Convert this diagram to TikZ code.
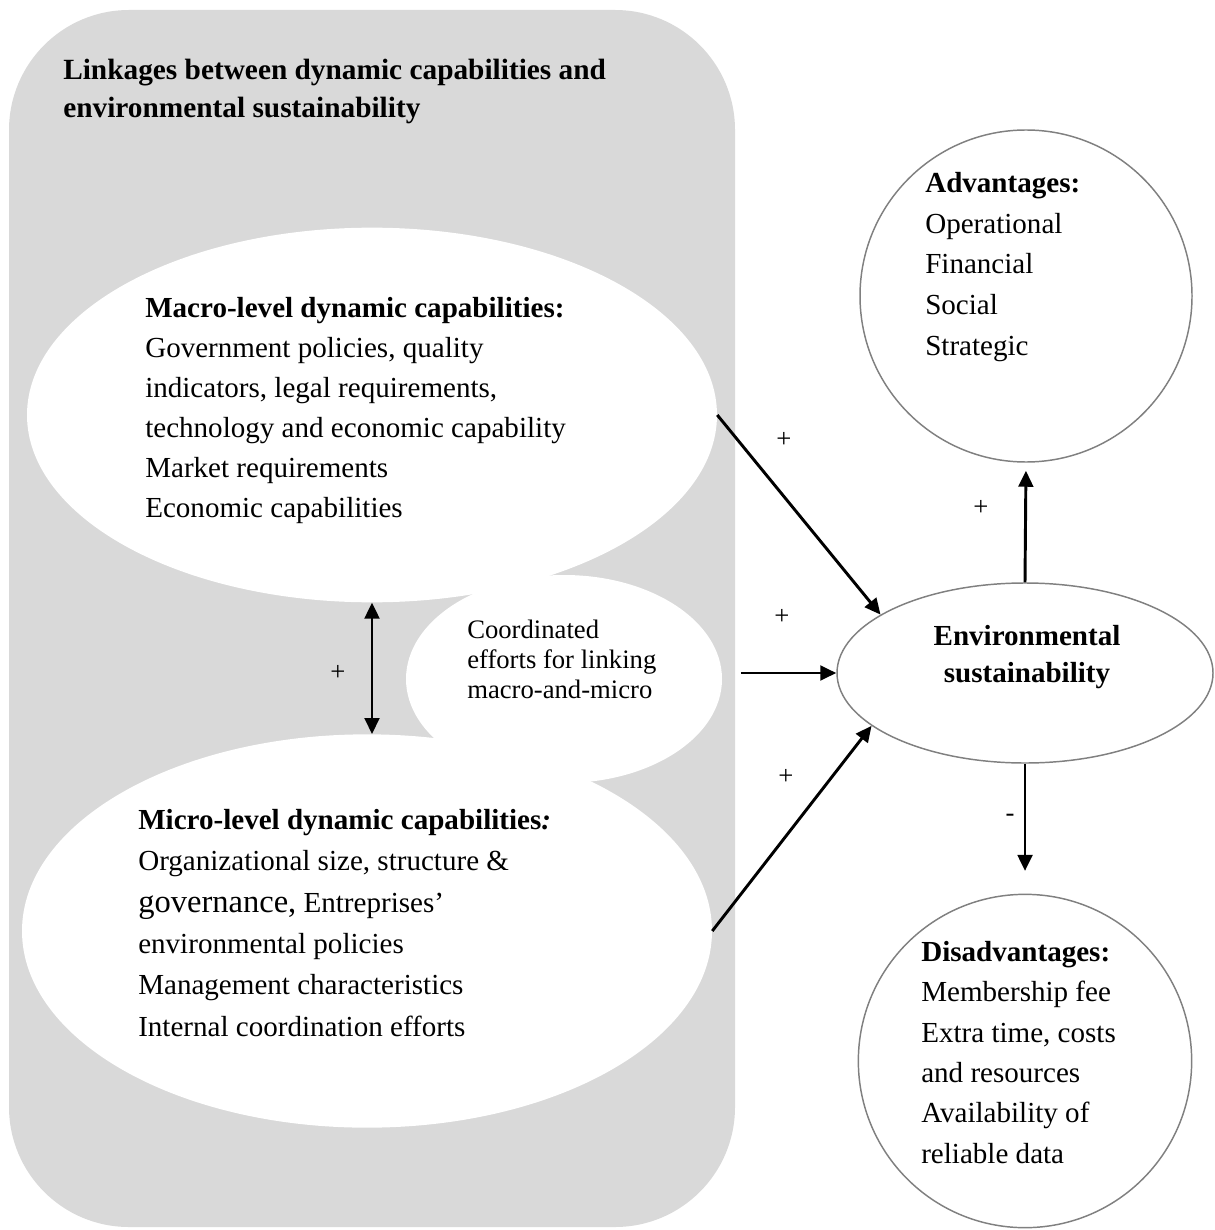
\documentclass[tikz,border=0pt]{standalone}
\usepackage{fontspec}
\setmainfont{Liberation Serif}
\usetikzlibrary{shapes.geometric,arrows.meta}

\definecolor{panelgray}{RGB}{217,217,217}
\definecolor{ringgray}{RGB}{128,128,128}

\tikzset{
  blob/.style={ellipse, fill=white, inner sep=0pt},
  ring/.style={draw=ringgray, line width=1.1pt, fill=white, inner sep=0pt},
  body/.style={align=left, anchor=base west, inner sep=0pt, font=\fontsize{21.8}{30}\selectfont},
  link/.style={line width=2.2pt, -{Triangle[length=12pt,width=11pt]}},
  sign/.style={inner sep=0pt, font=\fontsize{20}{22}\selectfont}
}

\begin{document}
\begin{tikzpicture}[x=0.75pt,y=0.75pt,yscale=-1,xscale=1]
\useasboundingbox (0,0) rectangle (1214,1230);

% grey panel
\fill[panelgray, rounded corners=90pt] (9,10) rectangle (735,1227);

% Title (base = last line)
\node[body, font=\bfseries\fontsize{22}{28.5}\selectfont] (heading) at (63,118)
  {Linkages between dynamic capabilities and\\environmental sustainability};

% Ellipses inside the panel
\node[blob, minimum width=517.5pt, minimum height=281pt] (macro) at (372,415) {};
\node[blob, minimum width=237pt, minimum height=156pt] (coord) at (564,679) {};
\node[blob, minimum width=517.5pt, minimum height=295pt] (micro) at (367,931) {};

% Right hand shapes
\node[ring, circle, minimum size=249pt] (adv) at (1026,296) {};
\node[ring, ellipse, minimum width=282pt, minimum height=135pt] (env) at (1025,673) {};
\node[ring, circle, minimum size=250pt] (dis) at (1025,1061) {};

% Texts (placed at the baseline of their last line)
\node[body] (macrotext) at (145,517)
  {\textbf{Macro-level dynamic capabilities:}\\
   Government policies, quality\\
   indicators, legal requirements,\\
   technology and economic capability\\
   Market requirements\\
   Economic capabilities};
\node[body, font=\fontsize{20}{22.5}\selectfont] (coordtext) at (467,698)
  {Coordinated\\efforts for linking\\macro-and-micro};
\node[body, font=\fontsize{21.8}{31}\selectfont] (microtext) at (138,1036)
  {\textbf{Micro-level dynamic capabilities\textit{:}}\\
   Organizational size, structure \&\\
   {\fontsize{24.4}{31}\selectfont governance,} Entreprises’\\
   environmental policies\\
   Management characteristics\\
   Internal coordination efforts};
\node[body, align=center, anchor=base, font=\bfseries\fontsize{21.8}{27.5}\selectfont] (envtext) at (1027,682)
  {Environmental\\sustainability};
\node[body, font=\fontsize{21.8}{30.4}\selectfont] (advtext) at (925,355)
  {\textbf{Advantages:}\\Operational\\Financial\\Social\\Strategic};
\node[body, font=\fontsize{21.8}{30.2}\selectfont] (distext) at (921,1163)
  {\textbf{Disadvantages:}\\Membership fee\\Extra time, costs\\and resources\\Availability of\\reliable data};

% Connectors
\draw[link] (macro.east) -- (env.158);
\draw[link, shorten <=14pt] (coord.east |- env.west) -- (env.west);
\draw[link] (micro.east) -- (env.199);
\draw[link, shorten >=6pt] (env.north) -- (adv.south);
\draw[link, shorten >=17pt] (env.south) -- (dis.north);
\draw[link, {Triangle[length=12pt,width=11pt]}-{Triangle[length=12pt,width=11pt]}]
  (macro.south) -- (macro.south |- micro.north);

% Signs
\node[sign] (s1) at (784,440) {+};
\node[sign] (s2) at (782,617) {+};
\node[sign] (s3) at (786,777) {+};
\node[sign] (s4) at (981,508) {+};
\node[sign] (s5) at (338,673) {+};
\node[sign] (s6) at (1010,818) {-};

\end{tikzpicture}
\end{document}
